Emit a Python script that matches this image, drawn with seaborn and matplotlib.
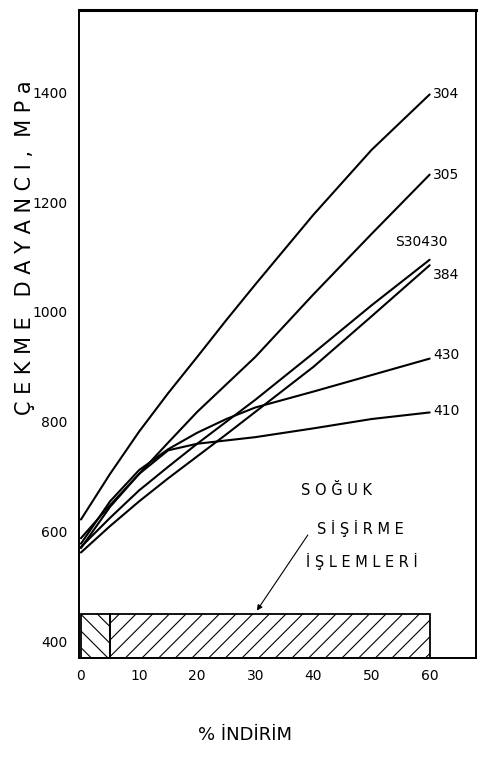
import numpy as np
import pandas as pd
import matplotlib
matplotlib.use("Agg")
import matplotlib.pyplot as plt
from matplotlib.patches import Rectangle
import seaborn as sns

# Values (% reduction vs tensile strength, MPa)
reduction = [0, 5, 10, 15, 20, 25, 30, 40, 50, 60]
s304 = [622, 705, 782, 852, 918, 985, 1050, 1177, 1295, 1396]
s305 = [588, 648, 705, 762, 818, 868, 918, 1032, 1142, 1250]
s30430 = [572, 625, 675, 718, 760, 800, 840, 925, 1012, 1095]
s384 = [562, 610, 655, 697, 737, 777, 818, 900, 992, 1085]
s430 = [578, 655, 712, 750, 780, 805, 826, 855, 885, 915]
s410 = [570, 645, 705, 748, 760, 766, 772, 788, 805, 817]

series = {"304": s304, "305": s305, "S30430": s30430,
          "384": s384, "430": s430, "410": s410}
label_pos = {"304": (60.6, 1396), "305": (60.6, 1250), "S30430": (54, 1128),
             "384": (60.6, 1067), "430": (60.6, 921), "410": (60.6, 820)}

x_ticks = [0, 10, 20, 30, 40, 50, 60]
y_ticks = [400, 600, 800, 1000, 1200, 1400]

# long table for seaborn
rows = []
for name, vals in series.items():
    for r, v in zip(reduction, vals):
        rows.append({"reduction": r, "strength": v, "steel": name})
df = pd.DataFrame(rows)

sns.set_style("white")
plt.rcParams['font.family'] = ['DejaVu Sans']
plt.rcParams['hatch.linewidth'] = 0.8
plt.rcParams['text.color'] = 'black'

fig = plt.figure(figsize=(4.8, 7.58), dpi=100)
ax = fig.add_axes([0.165, 0.132, 0.827, 0.855])

sns.lineplot(data=df, x="reduction", y="strength", units="steel",
             estimator=None, color="black", linewidth=1.5, ax=ax, legend=False)

for name, (lx, ly) in label_pos.items():
    ax.text(lx, ly, name, fontsize=10, ha="left", va="center")

ymin = 370
# cold stretching band
ax.add_patch(Rectangle((0, ymin), 5, 450 - ymin, fill=False, hatch="\\\\",
                       edgecolor="black", linewidth=1.3))
ax.add_patch(Rectangle((5, ymin), 55, 450 - ymin, fill=False, hatch="//",
                       edgecolor="black", linewidth=1.3))

ax.text(44, 674, "S O Ğ U K", fontsize=10.5, ha="center", va="center")
ax.text(48, 605, "S İ Ş İ R M E", fontsize=10.5, ha="center", va="center")
ax.text(48.4, 546, "İ Ş L E M L E R İ", fontsize=10.5, ha="center", va="center")
ax.annotate("", xy=(30, 452), xytext=(39.3, 598),
            arrowprops=dict(arrowstyle="-|>", color="black", lw=0.8,
                            mutation_scale=8))

ax.set_xlim(-0.3, 68)
ax.set_ylim(ymin, 1550)
ax.set_xticks(x_ticks)
ax.set_yticks(y_ticks)
ax.tick_params(axis="y", direction="out", length=5, width=1.2, labelsize=10,
               colors="black")
ax.tick_params(axis="x", direction="in", length=5, width=1.2, labelsize=10,
               pad=8, colors="black")
ax.set_xlabel("")
ax.set_ylabel("")
for s in ax.spines.values():
    s.set_visible(True)
    s.set_color("black")
    s.set_linewidth(1.4)
ax.spines["top"].set_linewidth(2.2)

fig.text(25 / 480, 1 - 248 / 758, "Ç E K M E   D A Y A N C I ,  M P a",
         rotation=90, fontsize=15, ha="center", va="center")
fig.text(245 / 480, 1 - 735 / 758, "% İNDİRİM", fontsize=13,
         ha="center", va="center")

fig.savefig("out.png", dpi=100)
